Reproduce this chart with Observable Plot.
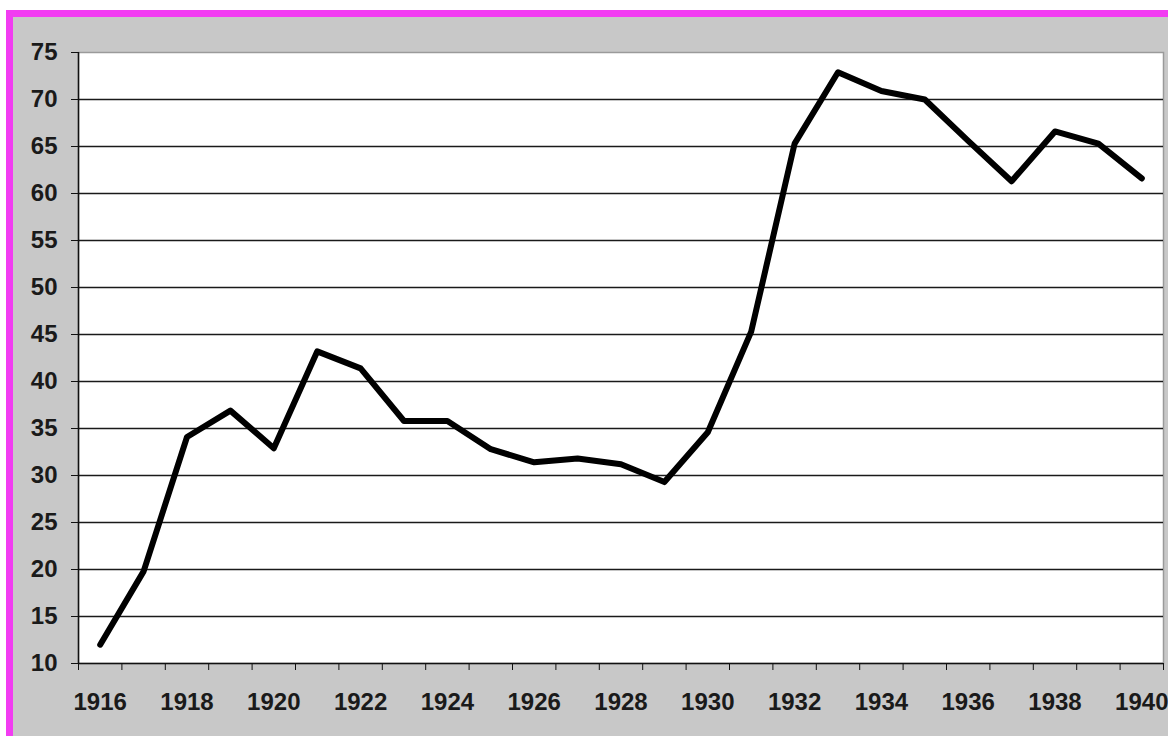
<!DOCTYPE html>
<html>
<head>
<meta charset="utf-8">
<script src="https://cdn.jsdelivr.net/npm/d3@7"></script>
<script src="https://cdn.jsdelivr.net/npm/@observablehq/plot@0.6"></script>
<style>
  html, body { margin: 0; padding: 0; background: #ffffff; width: 1168px; height: 736px; overflow: hidden; }
  #wrap {
    position: absolute; left: 6px; top: 10px;
    border-left: 7px solid #f23cf2; border-top: 7px solid #f23cf2;
    background: #c8c8c8; width: 1155px; height: 719px;
  }
  #wrap svg { display: block; }
</style>
</head>
<body>
<div id="wrap"></div>
<script>
const years = [1916, 1917, 1918, 1919, 1920, 1921, 1922, 1923, 1924, 1925, 1926, 1927, 1928,
               1929, 1930, 1931, 1932, 1933, 1934, 1935, 1936, 1937, 1938, 1939, 1940];
const values = [12.0, 19.8, 34.1, 36.9, 32.9, 43.2, 41.4, 35.8, 35.8, 32.8, 31.4, 31.8, 31.2,
                29.3, 34.6, 45.3, 65.3, 72.9, 70.9, 70.0, 65.6, 61.3, 66.6, 65.3, 61.6];
const yTicks = [10, 15, 20, 25, 30, 35, 40, 45, 50, 55, 60, 65, 70, 75];
const xLabels = [1916, 1918, 1920, 1922, 1924, 1926, 1928, 1930, 1932, 1934, 1936, 1938, 1940];

const data = years.map((yr, i) => ({year: yr, value: values[i]}));
const bandEdges = years.map(y => y - 0.5).concat([years[years.length - 1] + 0.5]);
const gridLines = yTicks.filter(v => v > yTicks[0] && v < yTicks[yTicks.length - 1]);

const chart = Plot.plot({
  width: 1155,
  height: 719,
  marginLeft: 65,
  marginTop: 35,
  marginRight: 5,
  marginBottom: 73,
  style: {
    background: "#c8c8c8",
    fontFamily: "'Liberation Sans', Arial, sans-serif",
    fontWeight: "bold",
    fontSize: "24px",
    color: "#111"
  },
  x: {type: "linear", domain: [bandEdges[0], bandEdges[bandEdges.length - 1]]},
  y: {domain: [yTicks[0], yTicks[yTicks.length - 1]]},
  marks: [
    Plot.frame({fill: "white", stroke: "#9a9a9a", strokeWidth: 1.5}),
    Plot.ruleY(gridLines, {stroke: "#1a1a1a", strokeWidth: 1.3}),
    Plot.ruleX([bandEdges[0]], {stroke: "#111", strokeWidth: 1.5}),
    Plot.ruleY([yTicks[0]], {stroke: "#111", strokeWidth: 1.5}),
    Plot.axisY({ticks: yTicks, tickSize: 7, tickPadding: 14, label: null,
                stroke: "#111", fill: "#1a1a1a", fontSize: 24, fontWeight: "bold"}),
    Plot.axisX({ticks: bandEdges, tickSize: 7, tickFormat: () => "", label: null, stroke: "#111"}),
    Plot.axisX({ticks: xLabels, tickSize: 0, tickPadding: 29, tickFormat: d => String(d),
                label: null, fill: "#1a1a1a", fontSize: 24, fontWeight: "bold"}),
    Plot.line(data, {x: "year", y: "value", stroke: "#000", strokeWidth: 6,
                     strokeLinejoin: "round", strokeLinecap: "round"})
  ]
});
document.getElementById("wrap").appendChild(chart);
</script>
</body>
</html>
